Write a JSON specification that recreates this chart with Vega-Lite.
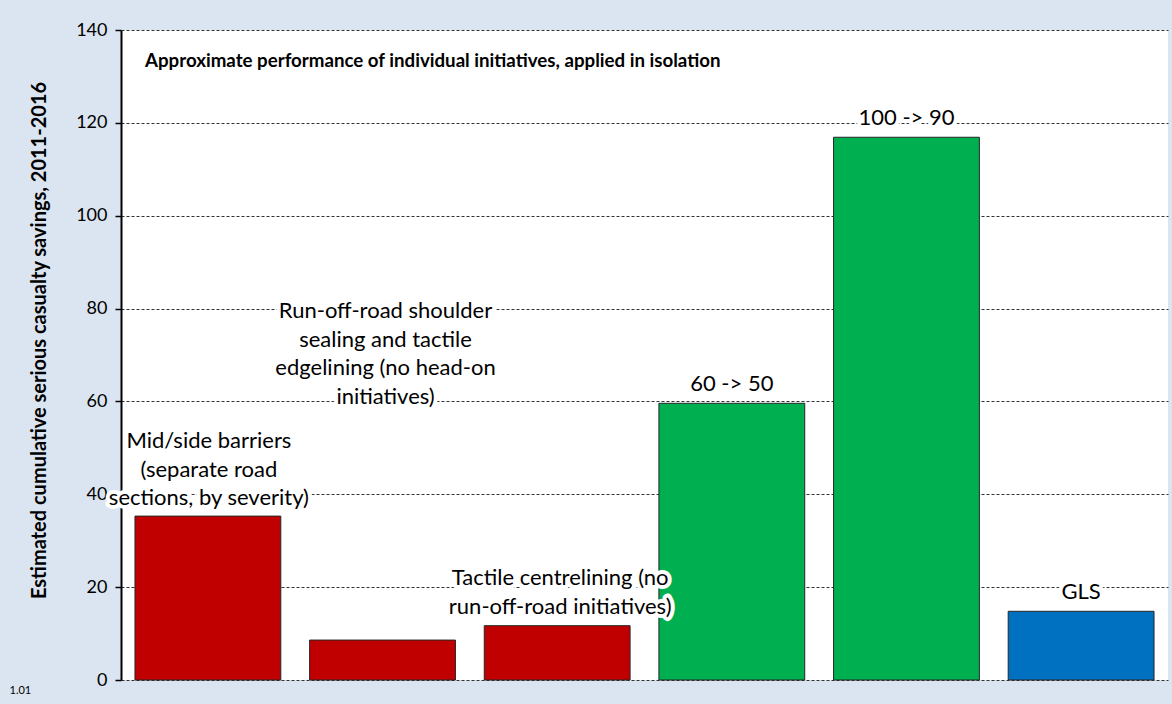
{
  "$schema": "https://vega.github.io/schema/vega-lite/v6.json",
  "width": 1047,
  "height": 650,
  "autosize": "none",
  "padding": {"left": 121, "top": 30, "right": 4, "bottom": 24},
  "background": "#dbe5f1",
  "config": {
    "view": {"fill": "white", "stroke": null},
    "font": "Lato"
  },
  "title": {
    "text": "Approximate performance of individual initiatives, applied in isolation",
    "anchor": "start",
    "frame": "group",
    "offset": -50,
    "dx": 24,
    "fontSize": 18.7,
    "fontWeight": "bold",
    "font": "Lato",
    "color": "black"
  },
  "data": {
    "values": [
      {"id": "b1", "value": 35.3, "group": "red", "lines": 3, "label": ["Mid/side barriers", "(separate road", "sections, by severity)"]},
      {"id": "b2", "value": 8.6, "group": "red", "lines": 4, "label": ["Run-off-road shoulder", "sealing and tactile", "edgelining (no head-on", "initiatives)"]},
      {"id": "b3", "value": 11.7, "group": "red", "lines": 2, "label": ["Tactile centrelining (no", "run-off-road initiatives)"]},
      {"id": "b4", "value": 59.6, "group": "green", "lines": 1, "label": ["60 -> 50"]},
      {"id": "b5", "value": 116.9, "group": "green", "lines": 1, "label": ["100 -> 90"]},
      {"id": "b6", "value": 14.8, "group": "blue", "lines": 1, "label": ["GLS"]}
    ]
  },
  "encoding": {
    "x": {
      "field": "id",
      "type": "nominal",
      "sort": null,
      "scale": {"paddingInner": 0.165, "paddingOuter": 0.08},
      "axis": {
        "labels": false,
        "ticks": false,
        "domain": false,
        "title": "1.01",
        "titleFontSize": 11,
        "titleFontWeight": "normal",
        "titleColor": "black",
        "titleAlign": "left",
        "titleBaseline": "middle",
        "titleX": -112,
        "titleY": 10
      }
    },
    "y": {
      "field": "value",
      "type": "quantitative",
      "scale": {"domain": [0, 140], "nice": false},
      "axis": {
        "values": [0, 20, 40, 60, 80, 100, 120, 140],
        "title": "Estimated cumulative serious casualty savings, 2011-2016",
        "titleFontSize": 20,
        "titleFontWeight": "bold",
        "titleColor": "black",
        "titleX": -82,
        "titleY": 310,
        "titleAngle": -90,
        "titleAlign": "center",
        "titleBaseline": "middle",
        "labelFontSize": 18,
        "labelColor": "black",
        "labelPadding": 8,
        "tickSize": 6,
        "tickColor": "black",
        "tickWidth": 1.5,
        "domainColor": "black",
        "domainWidth": 2,
        "gridColor": "#333333",
        "gridDash": [3, 2],
        "gridWidth": 1
      }
    }
  },
  "layer": [
    {
      "mark": {"type": "bar", "stroke": "#262626", "strokeWidth": 1},
      "encoding": {
        "color": {
          "field": "group",
          "type": "nominal",
          "scale": {"domain": ["red", "green", "blue"], "range": ["#c00000", "#00b050", "#0070c0"]},
          "legend": null
        }
      }
    },
    {
      "transform": [{"filter": "datum.lines == 1"}],
      "layer": [
        {"mark": {"type": "text", "baseline": "bottom", "align": "center", "dy": -7, "fontSize": 22, "lineHeight": 28.5, "stroke": "white", "strokeWidth": 8, "strokeJoin": "round", "fill": "white"}},
        {"mark": {"type": "text", "baseline": "bottom", "align": "center", "dy": -7, "fontSize": 22, "lineHeight": 28.5, "color": "black"}}
      ],
      "encoding": {"text": {"field": "label"}}
    },
    {
      "transform": [{"filter": "datum.lines == 2"}],
      "layer": [
        {"mark": {"type": "text", "baseline": "bottom", "align": "center", "dy": -35.5, "dx": 3, "fontSize": 22, "lineHeight": 28.5, "stroke": "white", "strokeWidth": 8, "strokeJoin": "round", "fill": "white"}},
        {"mark": {"type": "text", "baseline": "bottom", "align": "center", "dy": -35.5, "dx": 3, "fontSize": 22, "lineHeight": 28.5, "color": "black"}}
      ],
      "encoding": {"text": {"field": "label"}}
    },
    {
      "transform": [{"filter": "datum.lines == 3"}],
      "layer": [
        {"mark": {"type": "text", "baseline": "bottom", "align": "center", "dy": -63, "dx": 1, "fontSize": 22, "lineHeight": 28.5, "stroke": "white", "strokeWidth": 8, "strokeJoin": "round", "fill": "white"}},
        {"mark": {"type": "text", "baseline": "bottom", "align": "center", "dy": -63, "dx": 1, "fontSize": 22, "lineHeight": 28.5, "color": "black"}}
      ],
      "encoding": {"text": {"field": "label"}}
    },
    {
      "transform": [{"filter": "datum.lines == 4"}],
      "layer": [
        {"mark": {"type": "text", "baseline": "bottom", "align": "center", "dy": -317, "dx": 3, "fontSize": 22, "lineHeight": 28.5, "stroke": "white", "strokeWidth": 8, "strokeJoin": "round", "fill": "white"}},
        {"mark": {"type": "text", "baseline": "bottom", "align": "center", "dy": -317, "dx": 3, "fontSize": 22, "lineHeight": 28.5, "color": "black"}}
      ],
      "encoding": {"text": {"field": "label"}}
    }
  ]
}
